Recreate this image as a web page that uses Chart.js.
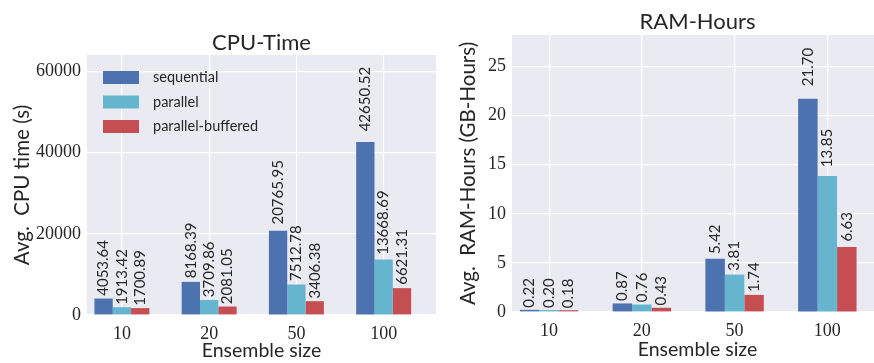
<!DOCTYPE html>
<html>
<head>
<meta charset="utf-8">
<script src="https://cdn.jsdelivr.net/npm/chart.js@4/dist/chart.umd.min.js"></script>
<style>
  html, body { margin: 0; padding: 0; background: #ffffff; overflow: hidden; }
  #wrap { position: relative; width: 874px; height: 363px; overflow: hidden; }
  #cpu { position: absolute; left: 0; top: 0; }
  #ram { position: absolute; left: 440px; top: 0; }
</style>
</head>
<body>
<div id="wrap">
  <canvas id="cpu" width="440" height="363"></canvas>
  <canvas id="ram" width="450" height="363"></canvas>
</div>
<script>
// Categories (ensemble sizes) and series names
const ensembleSizes = ['10', '20', '50', '100'];
const seriesNames = ['sequential', 'parallel', 'parallel-buffered'];

// Average CPU time per run (seconds)
const cpuSequential = [4053.64, 8168.39, 20765.95, 42650.52];
const cpuParallel   = [1913.42, 3709.86, 7512.78, 13668.69];
const cpuBuffered   = [1700.89, 2081.05, 3406.38, 6621.31];

// Average RAM usage (GB-hours)
const ramSequential = [0.22, 0.87, 5.42, 21.70];
const ramParallel   = [0.20, 0.76, 3.81, 13.85];
const ramBuffered   = [0.18, 0.43, 1.74, 6.63];

// Y-axis tick values
const cpuTicks = [0, 20000, 40000, 60000];
const ramTicks = [0, 5, 10, 15, 20, 25];

const seriesColors = ['#4C72B0', '#64B5CD', '#C44E52'];
const SANS = 'Lato, "Open Sans", sans-serif';
const SERIF = '"Liberation Serif", "DejaVu Serif", serif';
const TEXT = '#262626';

// Fill the plotting area with the light grey-blue panel colour
const panelBackground = {
  id: 'panelBackground',
  beforeDraw(chart) {
    const { ctx, chartArea: a } = chart;
    ctx.save();
    ctx.fillStyle = '#EAEAF2';
    ctx.fillRect(a.left, a.top, a.right - a.left, a.bottom - a.top);
    ctx.restore();
  }
};

// Panel title centred over the plotting area
const panelTitle = {
  id: 'panelTitle',
  afterDraw(chart, args, opts) {
    const { ctx, chartArea: a } = chart;
    ctx.save();
    ctx.font = '22px ' + SANS;
    ctx.fillStyle = TEXT;
    ctx.textAlign = 'center';
    ctx.textBaseline = 'middle';
    ctx.fillText(opts.text, (a.left + a.right) / 2, opts.y);
    ctx.restore();
  }
};

// Rotated value labels above each bar
const barValueLabels = {
  id: 'barValueLabels',
  afterDatasetsDraw(chart) {
    const { ctx } = chart;
    const yScale = chart.scales.y;
    ctx.save();
    ctx.font = '15px ' + SANS;
    ctx.fillStyle = TEXT;
    chart.data.datasets.forEach((ds, di) => {
      chart.getDatasetMeta(di).data.forEach((bar, i) => {
        const v = ds.data[i].y;
        const yTop = yScale.getPixelForValue(v * 1.05) - 2;
        ctx.save();
        ctx.translate(bar.x, yTop);
        ctx.rotate(-Math.PI / 2);
        ctx.textAlign = 'left';
        ctx.textBaseline = 'middle';
        ctx.fillText(v.toFixed(2), 0, 0);
        ctx.restore();
      });
    });
    ctx.restore();
  }
};

// Legend drawn inside the upper-left corner of the plotting area
const insideLegend = {
  id: 'insideLegend',
  afterDatasetsDraw(chart, args, opts) {
    if (!opts.show) return;
    const { ctx, chartArea: a } = chart;
    ctx.save();
    ctx.font = '14.5px ' + SANS;
    ctx.textAlign = 'left';
    ctx.textBaseline = 'middle';
    chart.data.datasets.forEach((ds, i) => {
      const bx = a.left + 16;
      const by = a.top + 16 + i * 24.5;
      ctx.fillStyle = ds.backgroundColor;
      ctx.fillRect(bx, by, 36, 13);
      ctx.fillStyle = TEXT;
      ctx.fillText(ds.label, bx + 50, by + 6.5);
    });
    ctx.restore();
  }
};

function buildDatasets(seriesValues) {
  return seriesValues.map((vals, s) => ({
    label: seriesNames[s],
    data: vals.map((v, i) => ({ x: i, y: v })),
    backgroundColor: seriesColors[s],
    borderWidth: 0,
    categoryPercentage: 0.63,
    barPercentage: 1.0
  }));
}

function makeChart(id, cfg) {
  return new Chart(document.getElementById(id), {
    type: 'bar',
    data: { datasets: buildDatasets(cfg.series) },
    plugins: [panelBackground, barValueLabels, insideLegend, panelTitle],
    options: {
      responsive: false,
      animation: false,
      devicePixelRatio: 1,
      layout: { padding: { left: 0, right: cfg.padRight, top: cfg.plotTop, bottom: 0 } },
      plugins: {
        legend: { display: false },
        tooltip: { enabled: false },
        title: { display: false },
        panelTitle: { text: cfg.title, y: cfg.titleY },
        insideLegend: { show: cfg.legend }
      },
      scales: {
        x: {
          type: 'linear',
          bounds: 'data',
          min: -0.4,
          max: 3.6,
          offset: false,
          afterBuildTicks: (scale) => { scale.ticks = ensembleSizes.map((_, i) => ({ value: i })); },
          afterFit: (scale) => { scale.height = cfg.xHeight; },
          grid: { color: '#ffffff', lineWidth: 1.2, drawTicks: false, offset: false },
          border: { display: false },
          ticks: {
            color: TEXT,
            padding: 8,
            font: { family: SERIF, size: 18 },
            callback: (v) => ensembleSizes[v] ?? ''
          },
          title: {
            display: true,
            text: 'Ensemble size',
            color: TEXT,
            font: { family: SANS, size: 19.5, lineHeight: 1.2 },
            padding: { top: 0, bottom: cfg.xTitlePad }
          }
        },
        y: {
          min: 0,
          max: cfg.yMax,
          bounds: 'data',
          afterBuildTicks: (scale) => { scale.ticks = cfg.ticks.map(v => ({ value: v })); },
          afterFit: (scale) => { scale.width = cfg.yWidth; },
          grid: { color: '#ffffff', lineWidth: 1.2, drawTicks: false },
          border: { display: false },
          ticks: {
            color: TEXT,
            padding: 6,
            font: { family: SERIF, size: 18 },
            callback: (v) => String(v)
          },
          title: {
            display: true,
            text: cfg.yTitle,
            color: TEXT,
            font: { family: SANS, size: 20.5, lineHeight: 1.2 },
            padding: { top: cfg.yTitlePad, bottom: 0 }
          }
        }
      }
    }
  });
}

makeChart('cpu', {
  series: [cpuSequential, cpuParallel, cpuBuffered],
  ticks: cpuTicks,
  yMax: 64100,
  title: 'CPU-Time',
  yTitle: 'Avg.  CPU time (s)',
  legend: true,
  padRight: 4,
  plotTop: 55,
  titleY: 43,
  xHeight: 48,
  yWidth: 87,
  xTitlePad: 1,
  yTitlePad: 10
});

makeChart('ram', {
  series: [ramSequential, ramParallel, ramBuffered],
  ticks: ramTicks,
  yMax: 28.2,
  title: 'RAM-Hours',
  yTitle: 'Avg.  RAM-Hours (GB-Hours)',
  legend: false,
  padRight: 7,
  plotTop: 35,
  titleY: 22,
  xHeight: 51,
  yWidth: 72,
  xTitlePad: 2,
  yTitlePad: 16.5
});
</script>
</body>
</html>
